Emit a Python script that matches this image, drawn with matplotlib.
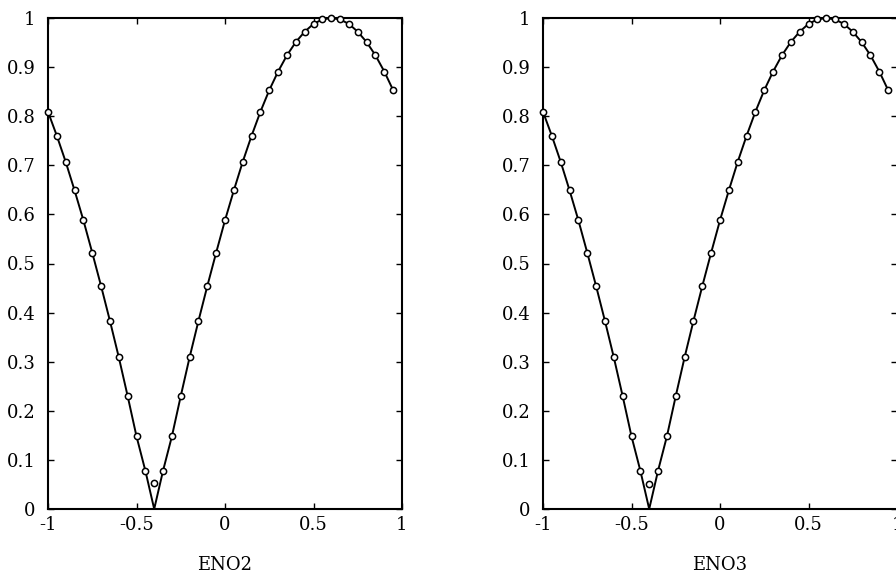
import numpy as np
import matplotlib
matplotlib.use("Agg")
import matplotlib.pyplot as plt

# cell centres and values (same for both panels)
x_pts = [-1.0, -0.95, -0.9, -0.85, -0.8, -0.75, -0.7, -0.65, -0.6, -0.55,
         -0.5, -0.45, -0.4, -0.35, -0.3, -0.25, -0.2, -0.15, -0.1, -0.05,
         0.0, 0.05, 0.1, 0.15, 0.2, 0.25, 0.3, 0.35, 0.4, 0.45,
         0.5, 0.55, 0.6, 0.65, 0.7, 0.75, 0.8, 0.85, 0.9, 0.95]
eno2_pts = [0.809, 0.760, 0.707, 0.649, 0.588, 0.522, 0.454, 0.383, 0.309, 0.230,
            0.148, 0.078, 0.052, 0.078, 0.148, 0.230, 0.309, 0.383, 0.454, 0.522,
            0.588, 0.649, 0.707, 0.760, 0.809, 0.853, 0.891, 0.924, 0.951, 0.972,
            0.988, 0.997, 1.000, 0.997, 0.988, 0.972, 0.951, 0.924, 0.891, 0.853]
eno3_pts = [0.809, 0.760, 0.707, 0.649, 0.588, 0.522, 0.454, 0.383, 0.309, 0.230,
            0.148, 0.078, 0.050, 0.078, 0.148, 0.230, 0.309, 0.383, 0.454, 0.522,
            0.588, 0.649, 0.707, 0.760, 0.809, 0.853, 0.891, 0.924, 0.951, 0.972,
            0.988, 0.997, 1.000, 0.997, 0.988, 0.972, 0.951, 0.924, 0.891, 0.853]
# exact solution: same curve but going down to 0 at the kink
exact_y = [0.809, 0.760, 0.707, 0.649, 0.588, 0.522, 0.454, 0.383, 0.309, 0.230,
           0.148, 0.078, 0.0, 0.078, 0.148, 0.230, 0.309, 0.383, 0.454, 0.522,
           0.588, 0.649, 0.707, 0.760, 0.809, 0.853, 0.891, 0.924, 0.951, 0.972,
           0.988, 0.997, 1.000, 0.997, 0.988, 0.972, 0.951, 0.924, 0.891, 0.853]

xticks = [-1, -0.5, 0, 0.5, 1]
xtick_labels = ["-1", "-0.5", "0", "0.5", "1"]
yticks = [0, 0.1, 0.2, 0.3, 0.4, 0.5, 0.6, 0.7, 0.8, 0.9, 1]
ytick_labels = ["0", "0.1", "0.2", "0.3", "0.4", "0.5", "0.6", "0.7", "0.8", "0.9", "1"]

plt.rcParams['font.family'] = ['DejaVu Serif']

fig = plt.figure(figsize=(8.96, 5.76), dpi=100)

def panel(rect, pts, label):
    ax = fig.add_axes(rect)
    ax.plot(x_pts, exact_y, color="black", lw=1.4, zorder=2)
    ax.plot(x_pts, pts, ls="none", marker="o", ms=4.5, mfc="white",
            mec="black", mew=1.1, zorder=3, clip_on=False)
    ax.set_xlim(-1, 1)
    ax.set_ylim(0, 1)
    ax.set_xticks(xticks)
    ax.set_xticklabels(xtick_labels)
    ax.set_yticks(yticks)
    ax.set_yticklabels(ytick_labels)
    ax.tick_params(direction="in", top=True, right=True, length=4,
                   width=1, labelsize=13)
    ax.tick_params(axis="x", pad=5)
    ax.tick_params(axis="y", pad=9)
    for s in ax.spines.values():
        s.set_linewidth(1.5)
    ax.set_xlabel(label, fontsize=13, labelpad=16)
    return ax

panel([48 / 896, 1 - 509 / 576, 354 / 896, 491 / 576], eno2_pts, "ENO2")
panel([543 / 896, 1 - 509 / 576, 354 / 896, 491 / 576], eno3_pts, "ENO3")

fig.savefig("out.png", dpi=100)
